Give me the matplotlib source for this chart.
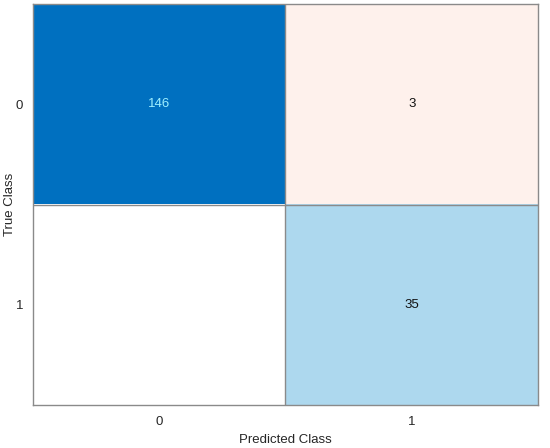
import numpy as np
import matplotlib
matplotlib.use("Agg")
import matplotlib.pyplot as plt
from matplotlib.colors import to_rgb

plt.rcParams['font.family'] = ['Liberation Sans', 'DejaVu Sans']

# Confusion matrix counts (rows = true class, cols = predicted class)
classes = ['0', '1']
counts = np.array([[146, 3],
                   [0, 35]])

# cell colours in MATLAB confusionchart style
diag_colors = {146: '#0070C0', 35: '#ADD8EE'}
off_colors = {3: '#FEF1EC', 0: '#FFFFFF'}
text_dark = '#111111'
text_light = '#9FEFFF'

rgb = np.zeros((2, 2, 3))
for i in range(2):
    for j in range(2):
        v = counts[i, j]
        rgb[i, j] = to_rgb(diag_colors[v] if i == j else off_colors[v])

fig = plt.figure(figsize=(5.5, 4.48), dpi=100)
ax = fig.add_axes([0.06, 0.096, 0.918, 0.895])
ax.imshow(rgb, aspect='auto', interpolation='nearest')

# cell borders
ax.axhline(0.5, color='#8a8a8a', lw=1)
ax.axvline(0.5, color='#8a8a8a', lw=1)
for s in ax.spines.values():
    s.set_color('#8a8a8a')
    s.set_linewidth(1)

for i in range(2):
    for j in range(2):
        v = counts[i, j]
        if v == 0:
            continue
        col = text_light if (i == j and v == counts.max()) else text_dark
        ax.text(j, i, str(v), ha='center', va='center', fontsize=9.5, color=col)

ax.set_xticks(range(2))
ax.set_yticks(range(2))
ax.set_xticklabels(classes)
ax.set_yticklabels(classes)
ax.tick_params(length=0, labelsize=9.5, colors='#262626')
ax.tick_params(axis='x', pad=8)
ax.tick_params(axis='y', pad=7)
ax.set_xlabel('Predicted Class', fontsize=9.5, color='#262626', labelpad=4)
ax.set_ylabel('True Class', fontsize=9.5, color='#262626')
ax.yaxis.label.set_va('center')
ax.yaxis.set_label_coords(-0.045, 0.5)

fig.savefig('out.png', dpi=100)
